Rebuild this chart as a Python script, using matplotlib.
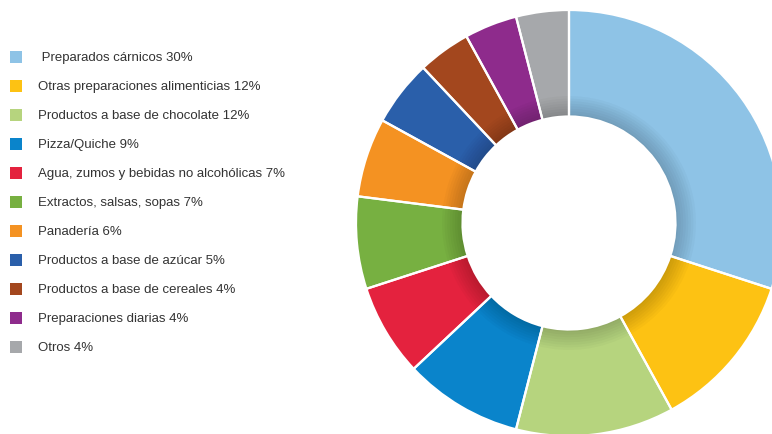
import matplotlib
matplotlib.use("Agg")
import matplotlib.pyplot as plt
from matplotlib.patches import Rectangle
import numpy as np

labels = [" Preparados cárnicos 30%", "Otras preparaciones alimenticias 12%",
          "Productos a base de chocolate 12%", "Pizza/Quiche 9%",
          "Agua, zumos y bebidas no alcohólicas 7%", "Extractos, salsas, sopas 7%",
          "Panadería 6%", "Productos a base de azúcar 5%",
          "Productos a base de cereales 4%", "Preparaciones diarias 4%", "Otros 4%"]
values = [30, 12, 12, 9, 7, 7, 6, 5, 4, 4, 4]
colors = ["#8EC3E6", "#FDC213", "#B6D47E", "#0A84CB", "#E4223E", "#77B041",
          "#F49222", "#2A5FAA", "#A3471E", "#8E2B8C", "#A6A8AB"]

W, H = 772, 434
fig = plt.figure(figsize=(W / 100, H / 100), dpi=100)
plt.rcParams['font.family'] = ['Liberation Sans', 'DejaVu Sans']

cx, cy, R = 569, 223, 213
ax = fig.add_axes([(cx - R) / W, (H - cy - R) / H, 2 * R / W, 2 * R / H])

ax.pie(values, colors=colors, startangle=90, counterclock=False, radius=1,
       wedgeprops=dict(width=0.5, edgecolor='none'))
# inner shadow
for k in range(8):
    ax.pie(values, colors=['black'] * len(values), startangle=90, counterclock=False,
           radius=0.5 + 0.012 * (k + 1),
           wedgeprops=dict(width=0.012 * (k + 1), edgecolor='none', alpha=0.022))
ax.pie(values, colors=['none'] * len(values), startangle=90, counterclock=False, radius=1,
       wedgeprops=dict(width=0.5, edgecolor='white', linewidth=1.6))
ax.set_xlim(-1, 1)
ax.set_ylim(-1, 1)
ax.axis('off')

# legend
y0, dy = 57, 29
for i, (lab, col) in enumerate(zip(labels, colors)):
    y = y0 + i * dy
    fig.patches.append(Rectangle(((10) / W, (H - y - 6) / H), 12 / W, 12 / H,
                                 transform=fig.transFigure, facecolor=col, edgecolor='none'))
    fig.text(38 / W, (H - y - 1) / H, lab, fontsize=9.5, color='#333333',
             va='center', ha='left')

fig.savefig("out.png", dpi=100)
